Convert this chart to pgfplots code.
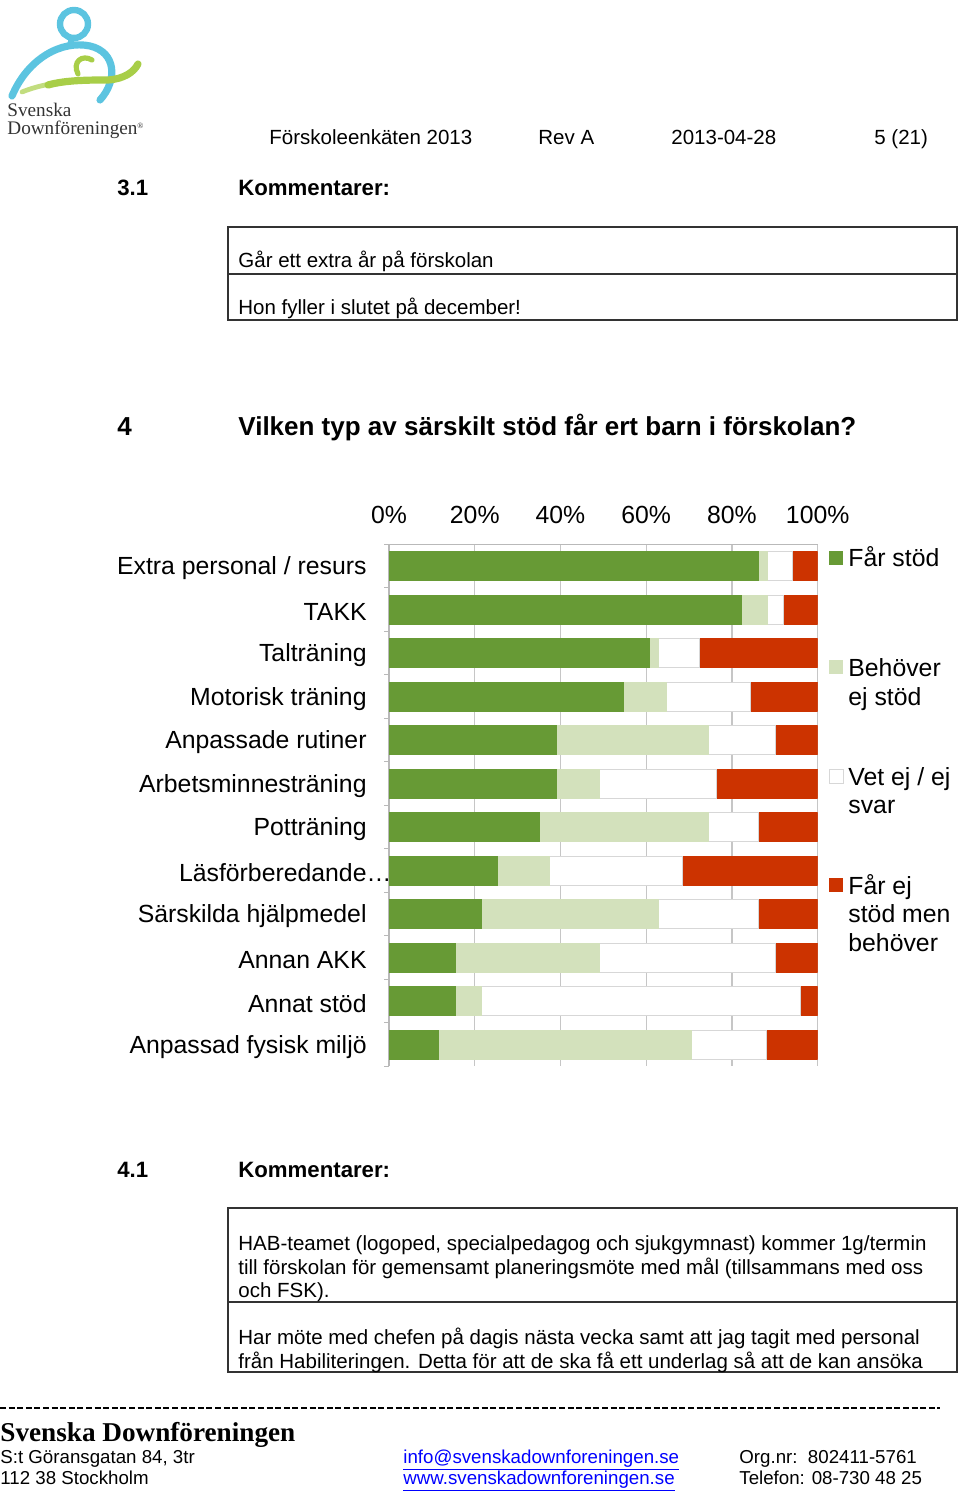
\documentclass[border=0pt]{standalone}
\usepackage{fontspec}
\setmainfont{Liberation Sans}
\newfontfamily\serifx{Liberation Serif}
\usepackage{pgfplots}
\pgfplotsset{compat=1.18}
\usepackage{pgfplotstable}
\definecolor{cgreen}{RGB}{103,154,53}
\definecolor{clight}{RGB}{211,225,188}
\definecolor{cred}{RGB}{204,51,0}
\definecolor{cwhiteb}{RGB}{215,215,215}
\definecolor{logoblue}{RGB}{92,196,224}
\definecolor{logogreen}{RGB}{168,206,72}
\definecolor{linkblue}{RGB}{0,0,255}
\newcommand{\fs}[1]{\fontsize{#1}{#1}\selectfont}

\pgfplotstableread{
idx fa be ve fe
0  86.2  2.1  5.7  6.0
1  82.3  6.0  3.8  7.9
2  60.7  2.1  9.7 27.5
3  54.7 10.0 19.5 15.8
4  39.0 35.5 15.6  9.9
5  39.0 10.0 27.3 23.7
6  35.1 39.3 11.7 13.9
7  25.3 12.0 31.1 31.6
8  21.5 41.3 23.4 13.8
9  15.6 33.5 41.0  9.9
10 15.6  5.9 74.5  4.0
11 11.6 59.0 17.5 11.9
}\datatable

\begin{document}
\begin{tikzpicture}
\useasboundingbox (0,0) rectangle (480pt,-745.5pt);
\begin{axis}[
  at={(194.5pt,-272.125pt)}, anchor=north west,
  scale only axis, width=214.35pt, height=261pt,
  xbar stacked, bar width=14.5pt,
  xmin=0, xmax=100, ymin=-0.5, ymax=11.5, y dir=reverse,
  axis x line*=top, axis y line*=left,
  axis line style={gray!55, line width=0.6pt},
  xtick={0,20,40,60,80,100},
  xticklabels={0\%,20\%,40\%,60\%,80\%,100\%},
  ytick={0,1,2,3,4,5,6,7,8,9,10,11},
  yticklabels={Extra personal / resurs,TAKK,Talträning,Motorisk träning,Anpassade rutiner,Arbetsminnesträning,Potträning,Läsförberedande\rlap{…},Särskilda hjälpmedel,Annan AKK,Annat stöd,Anpassad fysisk miljö},
  minor ytick={-0.5,0.5,1.5,2.5,3.5,4.5,5.5,6.5,7.5,8.5,9.5,10.5,11.5},
  tick align=outside,
  major tick length=0pt, minor tick length=2.5pt,
  minor tick style={gray!55, line width=0.6pt},
  xmajorgrids, grid style={gray!45, line width=0.6pt},
  tick label style={font=\fs{12.4}},
  xticklabel style={anchor=south, inner sep=0pt, yshift=10pt},
  yticklabel style={anchor=east, inner sep=0pt, xshift=-11pt, yshift=-1.2pt},
]
\addplot[fill=cgreen, draw=cgreen] table[x=fa, y=idx]{\datatable};
\addplot[fill=clight, draw=clight] table[x=be, y=idx]{\datatable};
\addplot[fill=white, draw=cwhiteb, line width=0.4pt] table[x=ve, y=idx]{\datatable};
\addplot[fill=cred, draw=cred] table[x=fe, y=idx]{\datatable};
\end{axis}

\begin{scope}[x=0.5pt, y=-0.5pt, every node/.style={inner sep=0pt, anchor=base west}]
% logo
\draw[logoblue, line width=3.2pt] (74,24) circle [radius=14];
\draw[logoblue, line width=3.6pt, line cap=round] (12,96) .. controls (28,58) and (62,40) .. (90,46) .. controls (116,52) and (118,80) .. (100,100);
\draw[logoblue, line width=3pt] (72,37) -- (70,46);
\draw[logogreen!70, line width=2.4pt, line cap=round] (22,92) .. controls (32,88) and (40,86) .. (50,84);
\draw[logogreen, line width=3.6pt, line cap=round] (48,85) .. controls (66,80) and (90,80) .. (108,80) .. controls (124,79) and (134,72) .. (138,64);
\draw[logogreen, line width=2.6pt, line cap=round] (78,74) .. controls (72,62) and (82,54) .. (92,60);
\node[text=black!80] at (7,117) {\serifx\fs{9.6}Svenska};
\node[text=black!80] at (7,135) {\serifx\fs{9.6}Downföreningen\raisebox{3pt}{\fs{4}®}};
% header
\node at (269,145) {\fs{10.25}Förskoleenkäten 2013};
\node at (538,145) {\fs{10.25}Rev A};
\node at (671,145) {\fs{10.25}2013-04-28};
\node at (874,145) {\fs{10.25}5 (21)};
% 3.1
\node at (117,196) {\fs{11.1}\bfseries 3.1};
\node at (238,196) {\fs{11.1}\bfseries Kommentarer:};
\draw[line width=0.7pt, black!80] (228,227) rectangle (957,320);
\draw[line width=0.7pt, black!80] (228,274) -- (957,274);
\node at (238,268) {\fs{10.25}Går ett extra år på förskolan};
\node at (238,315) {\fs{10.25}Hon fyller i slutet på december!};
% 4
\node at (117,436) {\fs{13}\bfseries 4};
\node at (238,436) {\fs{13}\bfseries Vilken typ av särskilt stöd får ert barn i förskolan?};
% legend
\fill[cgreen] (829,551) rectangle (843,565);
\node at (848,567) {\fs{12.4}Får stöd};
\fill[clight] (829,660) rectangle (843,674);
\node at (848,676) {\fs{12.4}Behöver};
\node at (848,705) {\fs{12.4}ej stöd};
\draw[cwhiteb, fill=white, line width=0.4pt] (829,769) rectangle (843,783);
\node at (848,785) {\fs{12.4}Vet ej / ej};
\node at (848,813) {\fs{12.4}svar};
\fill[cred] (829,878) rectangle (843,892);
\node at (848,894) {\fs{12.4}Får ej};
\node at (848,922) {\fs{12.4}stöd men};
\node at (848,951) {\fs{12.4}behöver};
% 4.1
\node at (117,1177) {\fs{11.1}\bfseries 4.1};
\node at (238,1177) {\fs{11.1}\bfseries Kommentarer:};
\draw[line width=0.7pt, black!80] (228,1208) rectangle (957,1372);
\draw[line width=0.7pt, black!80] (228,1302) -- (957,1302);
\node at (238,1250) {\fs{10.25}HAB-teamet (logoped, specialpedagog och sjukgymnast) kommer 1g/termin};
\node at (238,1274) {\fs{10.25}till förskolan för gemensamt planeringsmöte med mål (tillsammans med oss};
\node at (238,1297) {\fs{10.25}och FSK).};
\node at (238,1344) {\fs{10.25}Har möte med chefen på dagis nästa vecka samt att jag tagit med personal};
\node at (238,1368) {\fs{10.25}från Habiliteringen. Detta för att de ska få ett underlag så att de kan ansöka};
% footer
\draw[black, line width=1.1pt, dash pattern=on 3pt off 1.3pt] (0,1408) -- (940,1408);
\node at (0,1441) {\serifx\bfseries\fs{13.6}Svenska Downföreningen};
\node at (0,1463) {\fs{9.35}S:t Göransgatan 84, 3tr};
\node at (0,1484) {\fs{9.35}112 38 Stockholm};
\node[text=linkblue] at (403,1463) {\fs{9.35}\underline{info@svenskadownforeningen.se}};
\node[text=linkblue] at (403,1484) {\fs{9.35}\underline{www.svenskadownforeningen.se}};
\node at (739,1463) {\fs{9.35}Org.nr:\ \ 802411-5761};
\node at (739,1484) {\fs{9.35}Telefon: 08-730 48 25};
\end{scope}
\end{tikzpicture}
\end{document}
